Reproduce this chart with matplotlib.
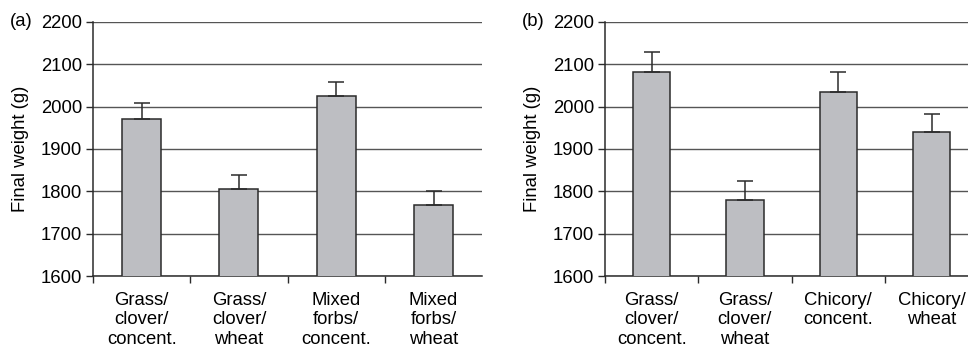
import matplotlib.pyplot as plt
import numpy as np

plt.rcParams['font.family'] = ['Liberation Sans', 'DejaVu Sans']

# ---------------------------------------------------------------------
# Data
# ---------------------------------------------------------------------
labels_a = ['Grass/\nclover/\nconcent.', 'Grass/\nclover/\nwheat',
            'Mixed\nforbs/\nconcent.', 'Mixed\nforbs/\nwheat']
weight_a = [1970, 1805, 2024, 1767]
err_a = [38, 34, 35, 33]

labels_b = ['Grass/\nclover/\nconcent.', 'Grass/\nclover/\nwheat',
            'Chicory/\nconcent.', 'Chicory/\nwheat']
weight_b = [2081, 1779, 2034, 1941]
err_b = [47, 46, 47, 41]

yticks = [1600, 1700, 1800, 1900, 2000, 2100, 2200]

bar_col = '#bdbec2'
line_col = '#2b2b2b'
grid_col = '#555555'
fs = 13.3


def draw_panel(ax, labels, vals, errs):
    x = np.arange(len(vals))
    ax.bar(x, vals, width=0.4, color=bar_col, edgecolor=line_col,
           linewidth=1.1, zorder=3)
    ax.errorbar(x, vals, yerr=[np.zeros(len(errs)), errs], fmt='none',
                ecolor=line_col, elinewidth=1.1, capsize=6, capthick=1.1,
                zorder=4)
    ax.set_xlim(-0.5, len(vals) - 0.5)
    ax.set_ylim(1600, 2200)
    ax.set_yticks(yticks)
    ax.tick_params(axis='y', labelsize=fs, length=5, width=1,
                   color=line_col, pad=3)
    ax.set_xticks(x)
    ax.set_xticklabels(labels, fontsize=fs, linespacing=1.2)
    ax.tick_params(axis='x', which='major', length=0, pad=11)
    ax.set_xticks(np.arange(len(vals)) - 0.5, minor=True)
    ax.tick_params(axis='x', which='minor', length=5, width=1,
                   color=line_col, direction='out')
    ax.grid(axis='y', color=grid_col, linewidth=1.0, zorder=0)
    ax.set_axisbelow(True)
    for s in ['top', 'right']:
        ax.spines[s].set_visible(False)
    for s in ['left', 'bottom']:
        ax.spines[s].set_color(line_col)
        ax.spines[s].set_linewidth(1.1)
    ax.set_ylabel('Final weight (g)', fontsize=fs, labelpad=8)


fig = plt.figure(figsize=(9.68, 3.51), dpi=100)
ax_a = fig.add_axes([0.0961, 0.2128, 0.402, 0.7254])
ax_b = fig.add_axes([0.625, 0.2128, 0.3855, 0.7254])

draw_panel(ax_a, labels_a, weight_a, err_a)
draw_panel(ax_b, labels_b, weight_b, err_b)

top_y = 1 - 22 / 351
fig.text(10 / 968, top_y, '(a)', fontsize=fs, ha='left', va='center')
fig.text(522 / 968, top_y, '(b)', fontsize=fs, ha='left', va='center')

plt.savefig('out.png', dpi=100)
